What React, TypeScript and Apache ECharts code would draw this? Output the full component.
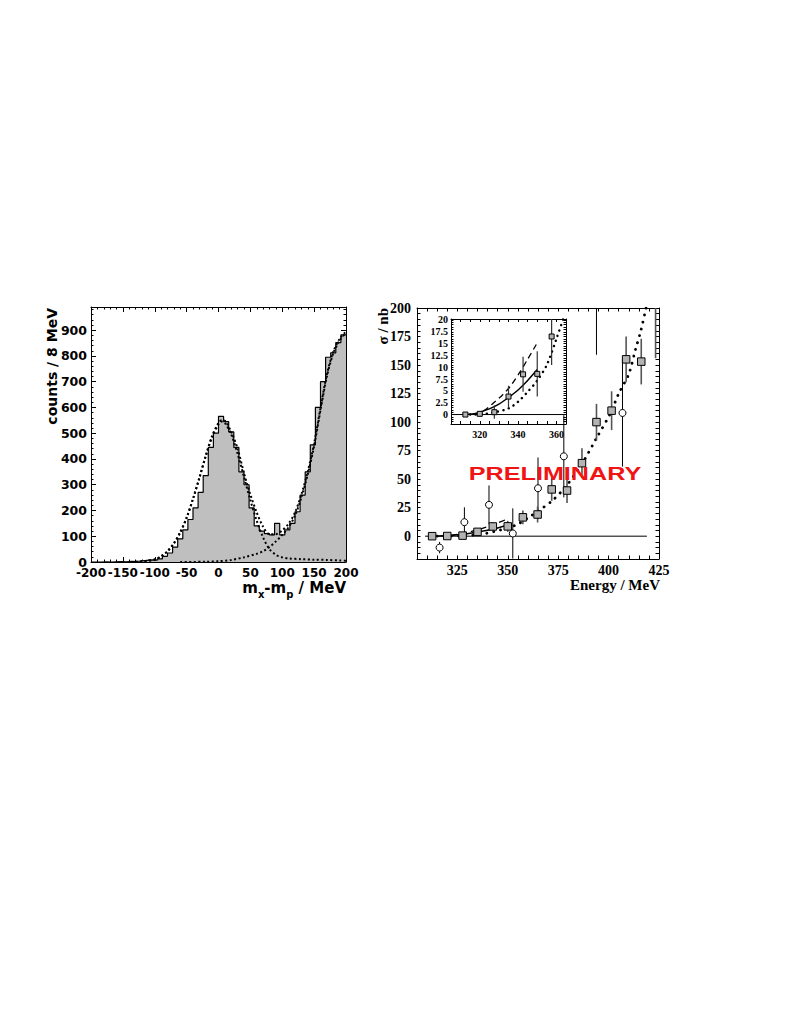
import React, { useEffect, useRef } from "react";
import * as echarts from "echarts";

// ---------- Left panel: missing-mass histogram (8 MeV bins from -200 to 200) ----------
const histBinStart = -200;
const histBinWidth = 8;
const histCounts = [
  0, 0, 1, 0, 1, 2, 1, 3, 2, 4,
  6, 8, 7, 12, 22, 35, 58, 90, 125, 165,
  210, 270, 335, 445, 500, 565, 545, 505, 445, 350,
  300, 210, 140, 120, 110, 105, 150, 105, 125, 150,
  195, 260, 350, 455, 600, 700, 795, 812, 852, 882,
];
const fitTotal: number[][] = [
  [-130, 1], [-120, 2], [-100, 10], [-90, 22], [-80, 42], [-70, 72], [-60, 115], [-50, 172],
  [-40, 245], [-30, 328], [-20, 413], [-10, 490], [0, 540], [5, 550], [10, 548], [20, 505],
  [30, 440], [40, 345], [50, 262], [60, 192], [70, 137], [80, 108], [90, 108], [100, 123],
  [110, 149], [120, 192], [130, 262], [140, 351], [150, 460], [160, 598], [170, 728],
  [180, 816], [190, 866], [200, 895],
];
const fitPeak: number[][] = [
  [-130, 1], [-120, 2], [-100, 10], [-90, 22], [-80, 42], [-70, 72], [-60, 115], [-50, 172],
  [-40, 245], [-30, 325], [-20, 410], [-10, 485], [0, 535], [5, 545], [10, 540], [20, 495],
  [30, 420], [40, 330], [50, 240], [60, 160], [70, 95], [80, 50], [90, 28], [100, 18],
  [110, 14], [130, 11], [150, 9], [170, 8], [190, 6], [200, 5],
];
const fitBackground: number[][] = [
  [-60, 0], [-20, 1], [0, 3], [20, 8], [40, 18], [60, 32], [70, 42], [80, 58], [90, 80],
  [100, 105], [110, 135], [120, 180], [130, 250], [140, 340], [150, 450], [160, 590],
  [170, 720], [180, 810], [190, 860], [200, 890],
];

// ---------- Right panel: cross section vs energy ----------
const squareEnergy = [312.5, 320, 327.6, 335, 342.6, 350, 357.5, 364.8, 371.8, 379.4, 386.8, 394, 401.5, 408.7, 416.2, 423.3];
const squareSigma = [0, 0.15, 0.5, 3.8, 8.5, 8.6, 16.5, 19, 41, 40, 64, 100, 110, 155, 153, 235];
const squareErr = [0.3, 0.4, 1.4, 2.3, 3.7, 4.8, 6, 7, 10, 11, 13, 16, 17, 20, 20, 79];
const circleEnergy = [316.2, 328.5, 340.7, 352.5, 365, 377.8, 394, 406.9];
const circleSigma = [-10, 12.3, 27.5, 2.4, 42, 70, 240, 108];
const circleErr = [5, 13, 17, 22, 27, 36, 81, 47];
const curveSolid: number[][] = [
  [312, 0], [316, 0.1], [320, 0.5], [325, 1.2], [330, 2.2], [335, 3.6], [340, 5.2], [345, 7.2], [350, 9.5],
];
const curveDashed: number[][] = [
  [317, 0], [322, 0.8], [327, 2.4], [332, 4.2], [336, 6], [341, 9], [345, 11.7], [349.5, 14.8],
];
const curveDotted: number[][] = [
  [315, 0], [322, 0.1], [328, 0.5], [335, 1.3], [340, 2.7], [345, 4.8], [350, 7.2], [355, 10.5],
  [360, 16], [365, 22], [372, 31], [379, 44], [387, 64], [394, 86], [401, 108], [405, 125],
  [410, 142], [413.4, 164], [416, 180], [418.6, 200], [420, 210],
];
const zeroLineMain: number[][] = [[309, 0], [419, 0]];
const zeroLineInset: number[][] = [[305, 0], [365, 0]];

const leftYLabels = [0, 100, 200, 300, 400, 500, 600, 700, 800, 900];
const rightXLabels = [325, 350, 375, 400, 425];
const rightYLabels = [0, 25, 50, 75, 100, 125, 150, 175, 200];
const insetXLabels = [320, 340, 360];
const insetYLabels = [0, 2.5, 5, 7.5, 10, 12.5, 15, 17.5, 20];

const SANS = "DejaVu Sans";
const SERIF = "Liberation Serif";

function makeRender(shape: "square" | "circle", size: number, barColor: string, barWidth: number) {
  return (params: any, api: any) => {
    const x = api.value(0);
    const y = api.value(1);
    const e = api.value(2);
    const p = api.coord([x, y]);
    const t = api.coord([x, y + e]);
    const b = api.coord([x, y - e]);
    const marker =
      shape === "square"
        ? {
            type: "rect",
            shape: { x: p[0] - size / 2, y: p[1] - size / 2, width: size, height: size },
            style: { fill: "#b3b3b3", stroke: "#000", lineWidth: 1 },
          }
        : {
            type: "circle",
            shape: { cx: p[0], cy: p[1], r: size / 2 },
            style: { fill: "#fff", stroke: "#000", lineWidth: 1 },
          };
    return {
      type: "group",
      children: [
        { type: "line", shape: { x1: t[0], y1: t[1], x2: b[0], y2: b[1] }, style: { stroke: barColor, lineWidth: barWidth } },
        marker,
      ],
    };
  };
}

function frameAxis(base: any) {
  return {
    axisLine: { show: true, onZero: false, lineStyle: { color: "#000", width: 1 } },
    splitLine: { show: false },
    ...base,
  };
}

export default function App() {
  const ref = useRef<HTMLDivElement>(null);
  useEffect(() => {
    if (!ref.current) return;
    const chart = echarts.init(ref.current, undefined, { renderer: "svg" });

    const histData = histCounts.map((c, i) => [histBinStart + histBinWidth * i, c]);
    histData.push([histBinStart + histBinWidth * histCounts.length, histCounts[histCounts.length - 1]]);

    const sqData = squareEnergy.map((e, i) => [e, squareSigma[i], squareErr[i]]);
    const circData = circleEnergy.map((e, i) => [e, circleSigma[i], circleErr[i]]);
    const insetSqData = sqData.filter((d) => d[0] < 362);

    const leftLabel = { fontFamily: SANS, fontWeight: "bold", fontSize: 12.5, color: "#000", lineHeight: 10 };
    const rightLabel = { fontFamily: SERIF, fontWeight: "bold", fontSize: 14, color: "#000" };
    const insetLabel = { fontFamily: SERIF, fontWeight: "bold", fontSize: 10, color: "#000" };

    const option: any = {
      animation: false,
      backgroundColor: "#fff",
      grid: [
        { left: 91, top: 307, width: 255, height: 255, containLabel: false },
        { left: 417, top: 308, width: 242, height: 251, containLabel: false },
        { left: 451, top: 319, width: 115, height: 105, containLabel: false, show: true, backgroundColor: "#fff", borderColor: "#000", borderWidth: 0 },
      ],
      xAxis: [
        frameAxis({
          gridIndex: 0, type: "value", min: -200, max: 200, interval: 50, position: "bottom",
          axisTick: { show: true, inside: true, length: 5, lineStyle: { color: "#000" } },
          minorTick: { show: true, splitNumber: 5, length: 2.5, lineStyle: { color: "#000" } },
          axisLabel: { ...leftLabel, fontSize: 12, margin: 6 },
        }),
        frameAxis({
          gridIndex: 0, type: "value", min: -200, max: 200, interval: 50, position: "top",
          axisTick: { show: true, inside: true, length: 5, lineStyle: { color: "#000" } },
          minorTick: { show: true, splitNumber: 5, length: 2.5, lineStyle: { color: "#000" } },
          axisLabel: { show: false },
        }),
        frameAxis({
          gridIndex: 1, type: "value", min: 305, max: 425, interval: 5, position: "bottom",
          axisTick: { show: true, inside: true, length: 3.5, lineStyle: { color: "#000" } },
          axisLabel: { ...rightLabel, margin: 4, customValues: rightXLabels },
        }),
        frameAxis({
          gridIndex: 1, type: "value", min: 305, max: 425, interval: 5, position: "top",
          axisTick: { show: true, inside: true, length: 3.5, lineStyle: { color: "#000" } },
          axisLabel: { show: false },
        }),
        frameAxis({
          gridIndex: 2, type: "value", min: 305, max: 365, interval: 5, position: "bottom",
          axisTick: { show: true, inside: true, length: 3, lineStyle: { color: "#000" } },
          axisLabel: { ...insetLabel, margin: 5, customValues: insetXLabels },
        }),
        frameAxis({
          gridIndex: 2, type: "value", min: 305, max: 365, interval: 5, position: "top",
          axisTick: { show: true, inside: true, length: 3, lineStyle: { color: "#000" } },
          axisLabel: { show: false },
        }),
      ],
      yAxis: [
        frameAxis({
          gridIndex: 0, type: "value", min: 0, max: 990, interval: 100, position: "left",
          axisTick: { show: true, inside: true, length: 5, lineStyle: { color: "#000" } },
          minorTick: { show: true, splitNumber: 5, length: 2.5, lineStyle: { color: "#000" } },
          axisLabel: { ...leftLabel, margin: 4, customValues: leftYLabels },
        }),
        frameAxis({
          gridIndex: 0, type: "value", min: 0, max: 990, interval: 100, position: "right",
          axisTick: { show: true, inside: true, length: 5, lineStyle: { color: "#000" } },
          minorTick: { show: true, splitNumber: 5, length: 2.5, lineStyle: { color: "#000" } },
          axisLabel: { show: false },
        }),
        frameAxis({
          gridIndex: 1, type: "value", min: -20, max: 200, interval: 5, position: "left",
          axisTick: { show: true, inside: true, length: 3.5, lineStyle: { color: "#000" } },
          axisLabel: { ...rightLabel, margin: 6, customValues: rightYLabels },
        }),
        frameAxis({
          gridIndex: 1, type: "value", min: -20, max: 200, interval: 5, position: "right",
          axisTick: { show: true, inside: true, length: 3.5, lineStyle: { color: "#000" } },
          axisLabel: { show: false },
        }),
        frameAxis({
          gridIndex: 2, type: "value", min: -2, max: 20.2, interval: 0.5, position: "left",
          axisTick: { show: true, inside: true, length: 2.5, lineStyle: { color: "#000" } },
          axisLabel: { ...insetLabel, margin: 3, customValues: insetYLabels },
        }),
        frameAxis({
          gridIndex: 2, type: "value", min: -2, max: 20.2, interval: 0.5, position: "right",
          axisTick: { show: true, inside: true, length: 2.5, lineStyle: { color: "#000" } },
          axisLabel: { show: false },
        }),
      ],
      series: [
        // left panel
        {
          type: "line", xAxisIndex: 0, yAxisIndex: 0, data: histData, step: "end", symbol: "none",
          lineStyle: { color: "#000", width: 1.2 }, areaStyle: { color: "#bfbfbf", opacity: 1 }, z: 2,
        },
        {
          type: "line", xAxisIndex: 0, yAxisIndex: 0, data: fitPeak, symbol: "none", smooth: 0.3,
          lineStyle: { color: "#000", width: 2, type: [2, 2.5] }, z: 3,
        },
        {
          type: "line", xAxisIndex: 0, yAxisIndex: 0, data: fitBackground, symbol: "none", smooth: 0.3,
          lineStyle: { color: "#000", width: 2, type: [2, 2.5] }, z: 3,
        },
        {
          type: "line", xAxisIndex: 0, yAxisIndex: 0, data: fitTotal, symbol: "none", smooth: 0.3,
          lineStyle: { color: "#000", width: 2, type: [2, 2.5] }, z: 3,
        },
        // right main panel
        {
          type: "line", xAxisIndex: 2, yAxisIndex: 2, data: zeroLineMain, symbol: "none",
          lineStyle: { color: "#000", width: 1 }, z: 2,
        },
        {
          type: "line", xAxisIndex: 2, yAxisIndex: 2, data: curveSolid, symbol: "none", smooth: 0.3,
          lineStyle: { color: "#000", width: 1.5 }, z: 3,
        },
        {
          type: "line", xAxisIndex: 2, yAxisIndex: 2, data: curveDashed, symbol: "none", smooth: 0.3,
          lineStyle: { color: "#000", width: 1.3, type: [6, 4] }, z: 3,
        },
        {
          type: "line", xAxisIndex: 2, yAxisIndex: 2, data: curveDotted, symbol: "none", smooth: 0.3,
          lineStyle: { color: "#000", width: 2.8, type: [0.1, 7], cap: "round" }, z: 3,
        },
        {
          type: "custom", xAxisIndex: 2, yAxisIndex: 2, data: circData, clip: true, z: 4,
          encode: { x: 0, y: 1 }, renderItem: makeRender("circle", 7, "#000", 1),
        },
        {
          type: "custom", xAxisIndex: 2, yAxisIndex: 2, data: sqData, clip: true, z: 5,
          encode: { x: 0, y: 1 }, renderItem: makeRender("square", 7.5, "#555", 1.6),
        },
        // inset
        {
          type: "line", xAxisIndex: 4, yAxisIndex: 4, data: zeroLineInset, symbol: "none",
          lineStyle: { color: "#000", width: 1 }, z: 6,
        },
        {
          type: "line", xAxisIndex: 4, yAxisIndex: 4, data: curveSolid, symbol: "none", smooth: 0.3,
          lineStyle: { color: "#000", width: 1.5 }, z: 6,
        },
        {
          type: "line", xAxisIndex: 4, yAxisIndex: 4, data: curveDashed, symbol: "none", smooth: 0.3,
          lineStyle: { color: "#000", width: 1.3, type: [6, 4] }, z: 6,
        },
        {
          type: "line", xAxisIndex: 4, yAxisIndex: 4, data: curveDotted, symbol: "none", smooth: 0.3, clip: true,
          lineStyle: { color: "#000", width: 2.4, type: [0.1, 5.5], cap: "round" }, z: 6,
        },
        {
          type: "custom", xAxisIndex: 4, yAxisIndex: 4, data: insetSqData, clip: true, z: 7,
          encode: { x: 0, y: 1 }, renderItem: makeRender("square", 5, "#333", 1.2),
        },
      ],
      graphic: [
        {
          type: "text", x: 52, y: 308, rotation: Math.PI / 2,
          style: { text: "counts / 8 MeV", fontFamily: SANS, fontWeight: "bold", fontSize: 14, fill: "#000", align: "right", verticalAlign: "middle" },
        },
        {
          type: "text", x: 346, y: 580,
          style: {
            text: "{m|m}{s|x}{m|-m}{s|p}{m| / MeV}",
            align: "right", verticalAlign: "top",
            rich: {
              m: { fontFamily: SANS, fontWeight: "bold", fontSize: 15, fill: "#000", verticalAlign: "top" },
              s: { fontFamily: SANS, fontWeight: "bold", fontSize: 10, fill: "#000", verticalAlign: "top", padding: [9, 0, 0, 0] },
            },
          },
        },
        {
          type: "text", x: 660, y: 585,
          style: { text: "Energy / MeV", fontFamily: SERIF, fontWeight: "bold", fontSize: 15, fill: "#000", align: "right", verticalAlign: "middle" },
        },
        {
          type: "text", x: 383, y: 308, rotation: Math.PI / 2,
          style: { text: "σ / nb", fontFamily: SERIF, fontWeight: "bold", fontSize: 15, fill: "#000", align: "right", verticalAlign: "middle" },
        },
        {
          type: "text", x: 555, y: 474, scaleX: 1.4, z: 20,
          style: { text: "PRELIMINARY", fontFamily: "Liberation Sans", fontWeight: "bold", fontSize: 18, fill: "#f01414", align: "center", verticalAlign: "middle" },
        },
      ],
    };
    chart.setOption(option);
    return () => chart.dispose();
  }, []);
  return <div ref={ref} style={{ position: "absolute", left: 0, top: 0, width: 789, height: 1021 }} />;
}
